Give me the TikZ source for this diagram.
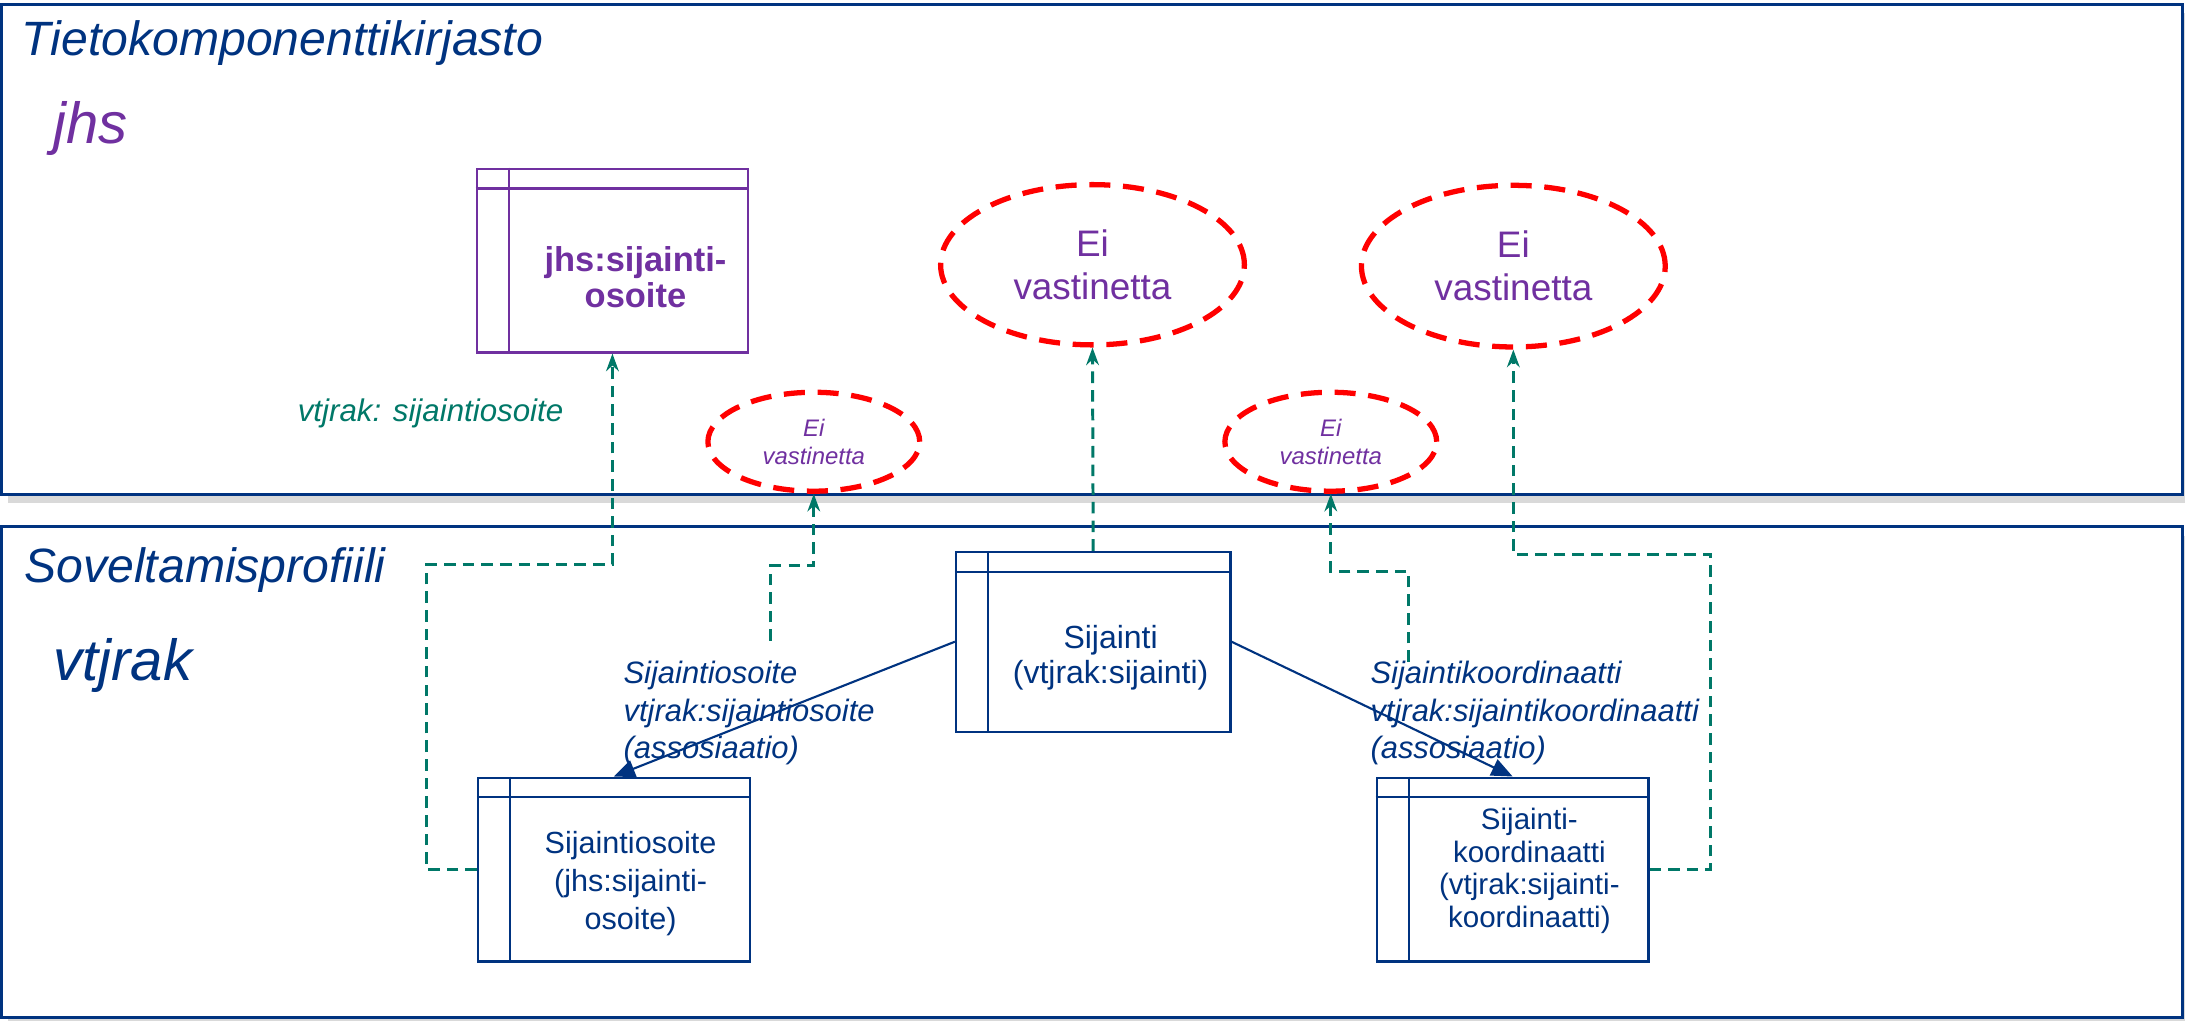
\documentclass[tikz,border=0pt]{standalone}
\usepackage{fontspec}
\setmainfont{Liberation Sans}
\usetikzlibrary{arrows.meta,shapes.geometric,shadows}
\definecolor{tummansininen}{RGB}{0,51,128}
\definecolor{violetti}{RGB}{112,48,160}
\definecolor{turkoosi}{RGB}{0,120,104}
\definecolor{punainen}{RGB}{255,0,0}
\newcommand\spx{0.013935cm}
\tikzset{
	paneeli/.style={draw=tummansininen, line width=0.8pt, fill=white,
		drop shadow={shadow xshift=2pt, shadow yshift=-2.5pt, opacity=0.25, fill=black!60}},
	otsikko/.style={anchor=base west, inner sep=0pt, text=tummansininen,
		font=\itshape\fontsize{13.7}{16}\selectfont},
	luokka/.style={draw=#1, line width=0.6pt, minimum width=195*\spx,
		minimum height=132*\spx, inner sep=0pt},
	luokkateksti/.style={align=center, inner sep=0pt, text=tummansininen,
		font=\fontsize{8.7}{10.8}\selectfont},
	puuttuu/.style={ellipse, draw=punainen, line width=1.5pt,
		dash pattern=on 6pt off 3.6pt, text=violetti, align=center, inner sep=0pt},
	viiva/.style={turkoosi, line width=0.85pt, dash pattern=on 3.3pt off 2pt,
		-{Stealth[length=5pt,width=3.6pt]}},
	assoc/.style={tummansininen, line width=0.6pt, -{Triangle[length=6pt,width=5pt]}},
	assoctext/.style={anchor=north west, align=left, inner sep=0pt, text=tummansininen,
		font=\itshape\fontsize{8.8}{10.7}\selectfont}
}
\begin{document}
\begin{tikzpicture}[x=\spx, y=-\spx]
	\useasboundingbox (0,0) rectangle (1568,732);
	% paneelit
	\draw[paneeli] (1,3) rectangle (1566,355);
	\draw[paneeli] (1,378) rectangle (1566,730);
	\node[otsikko] (kirjasto) at (15,40) {Tietokomponenttikirjasto};
	\node[otsikko, text=violetti, font=\itshape\fontsize{16.5}{18}\selectfont] (jhs) at (38,103) {jhs};
	\node[otsikko] (profiili) at (17,418) {Soveltamisprofiili};
	\node[otsikko, font=\itshape\fontsize{16.5}{18}\selectfont] (vtjrak) at (38,488) {vtjrak};
	% luokat
	\node[luokka=violetti] (jhsosoite) at (439.5,187) {};
	\node[luokka=tummansininen, minimum width=197*\spx, minimum height=129*\spx] (sijainti) at (784.5,460.5) {};
	\node[luokka=tummansininen] (osoite) at (440.5,624) {};
	\node[luokka=tummansininen] (koordinaatti) at (1085.5,624) {};
	\foreach \n/\c in {jhsosoite/violetti,sijainti/tummansininen,osoite/tummansininen,koordinaatti/tummansininen}
		\draw[\c, line width=0.6pt] ([yshift=-15*\spx]\n.north west) -- ([yshift=-15*\spx]\n.north east)
			([xshift=24*\spx]\n.north west) -- ([xshift=24*\spx]\n.south west);
	\node[luokkateksti, text=violetti, font=\bfseries\fontsize{9.8}{10.4}\selectfont] (jhsosoite-t) at (456,199) {jhs:sijainti-\\osoite};
	\node[luokkateksti, font=\fontsize{9.1}{10.2}\selectfont] (sijainti-t) at (797,472) {Sijainti\\(vtjrak:sijainti)};
	\node[luokkateksti] (osoite-t) at (452.5,634) {Sijaintiosoite\\(jhs:sijainti-\\osoite)};
	\node[luokkateksti, font=\fontsize{8.4}{9.3}\selectfont] (koordinaatti-t) at (1097.5,625) {Sijainti-\\koordinaatti\\(vtjrak:sijainti-\\koordinaatti)};
	% ei vastinetta
	\node[puuttuu, minimum width=218*\spx, minimum height=115*\spx,
		font=\fontsize{10.5}{12.3}\selectfont] (suuri1) at (784,190) {Ei\\vastinetta};
	\node[puuttuu, minimum width=218*\spx, minimum height=116*\spx,
		font=\fontsize{10.5}{12.3}\selectfont] (suuri2) at (1086,191) {Ei\\vastinetta};
	\node[puuttuu, minimum width=152*\spx, minimum height=71*\spx,
		font=\itshape\fontsize{6.8}{8}\selectfont] (pieni1) at (584,317) {Ei\\vastinetta};
	\node[puuttuu, minimum width=152*\spx, minimum height=71*\spx,
		font=\itshape\fontsize{6.8}{8}\selectfont] (pieni2) at (955,317) {Ei\\vastinetta};
	% assosiaatiot
	\draw[assoc] (sijainti.west) -- (osoite.north);
	\draw[assoc] (sijainti.east) -- (koordinaatti.north);
	\node[assoctext] (osoite-a) at (447,474) {Sijaintiosoite\\vtjrak:sijaintiosoite\\(assosiaatio)};
	\node[assoctext] (koordinaatti-a) at (983,474) {Sijaintikoordinaatti\\vtjrak:sijaintikoordinaatti\\(assosiaatio)};
	% vastaavuudet
	\coordinate (b0) at (553,460);
	\coordinate (d0) at (1011,475);
	\draw[viiva] (osoite.west) -- ++(-36,0) -- ++(0,-219) -| (jhsosoite.south);
	\draw[viiva] (b0) -- ++(0,-54) -| (pieni1.south);
	\draw[viiva] (sijainti.north) -- (suuri1.south);
	\draw[viiva] (d0) -- ++(0,-65) -| (pieni2.south);
	\draw[viiva] (koordinaatti.east) -- ++(44,0) -- ++(0,-226) -| (suuri2.south);
	\node[text=turkoosi, font=\itshape\fontsize{8.9}{11}\selectfont, inner sep=0pt] (vastaavuus) at (309,297) {vtjrak: sijaintiosoite};
\end{tikzpicture}
\end{document}
